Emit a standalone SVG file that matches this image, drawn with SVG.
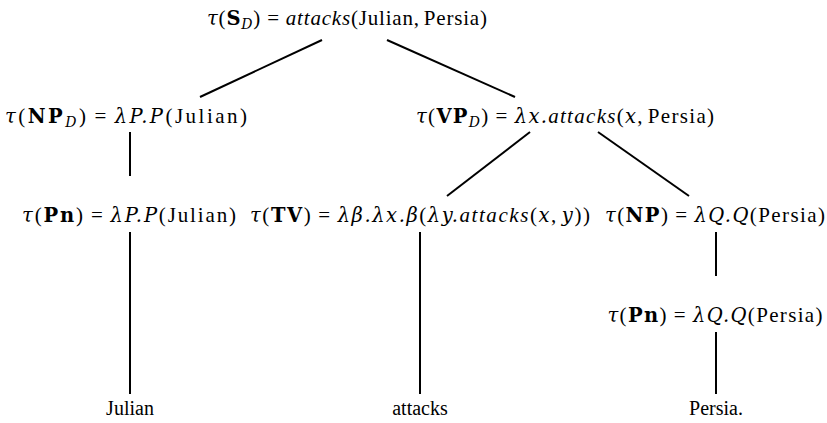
<svg xmlns="http://www.w3.org/2000/svg" width="827" height="423" viewBox="0 0 827 423">
<style>
text{font-family:"Liberation Serif","DejaVu Serif",serif;font-size:20px;fill:#000;text-anchor:middle}
.t{font-size:21px}
.i{font-style:italic}
.m{font-family:"DejaVu Serif",serif;font-style:italic;font-size:19.5px}
.b{font-family:"DejaVu Serif",serif;font-weight:bold;font-size:19.5px}
.s{font-family:"DejaVu Serif",serif;font-size:14px;font-style:italic}
line{stroke:#000;stroke-width:2}
</style>
<rect width="827" height="423" fill="#fff"/>
<g id="connectors">
<line x1="322" y1="40" x2="200" y2="97"/>
<line x1="387" y1="40" x2="515" y2="97"/>
<line x1="130" y1="132" x2="130" y2="176"/>
<line x1="530" y1="132" x2="447" y2="196"/>
<line x1="598" y1="132" x2="689" y2="196"/>
<line x1="130" y1="232" x2="130" y2="394"/>
<line x1="420" y1="232" x2="420" y2="394"/>
<line x1="716" y1="232" x2="716" y2="276"/>
<line x1="716" y1="332" x2="716" y2="394"/>
</g>
<g id="n_S"><text class="t" x="347" y="25" textLength="280" lengthAdjust="spacing"><tspan class="m">τ</tspan>(<tspan class="b">S</tspan><tspan class="s" dy="4">D</tspan><tspan dy="-4">)</tspan><tspan dx="6">=</tspan><tspan class="i" dx="6">attacks</tspan>(Julian,<tspan dx="4">Persia)</tspan></text></g>
<g id="n_NPD"><text class="t" x="126" y="123" textLength="242" lengthAdjust="spacing"><tspan class="m">τ</tspan>(<tspan class="b">NP</tspan><tspan class="s" dy="4">D</tspan><tspan dy="-4">)</tspan><tspan dx="6">=</tspan><tspan class="m" dx="6">λP.P</tspan>(Julian)</text></g>
<g id="n_VPD"><text class="t" x="565" y="123" textLength="298" lengthAdjust="spacing"><tspan class="m">τ</tspan>(<tspan class="b">VP</tspan><tspan class="s" dy="4">D</tspan><tspan dy="-4">)</tspan><tspan dx="6">=</tspan><tspan class="m" dx="6">λx.</tspan><tspan class="i">attacks</tspan>(<tspan class="m">x</tspan>,<tspan dx="4">Persia)</tspan></text></g>
<g id="n_Pn1"><text class="t" x="129" y="222" textLength="214" lengthAdjust="spacing"><tspan class="m">τ</tspan>(<tspan class="b">Pn</tspan>)<tspan dx="6">=</tspan><tspan class="m" dx="6">λP.P</tspan>(Julian)</text></g>
<g id="n_TV"><text class="t" x="420" y="222" textLength="340" lengthAdjust="spacing"><tspan class="m">τ</tspan>(<tspan class="b">TV</tspan>)<tspan dx="6">=</tspan><tspan class="m" dx="6">λβ.λx.β</tspan>(<tspan class="m">λy.</tspan><tspan class="i">attacks</tspan>(<tspan class="m">x</tspan>,<tspan class="m" dx="4">y</tspan>))</text></g>
<g id="n_NP"><text class="t" x="715" y="222" textLength="220" lengthAdjust="spacing"><tspan class="m">τ</tspan>(<tspan class="b">NP</tspan>)<tspan dx="6">=</tspan><tspan class="m" dx="6">λQ.Q</tspan>(Persia)</text></g>
<g id="n_Pn2"><text class="t" x="715" y="322" textLength="215" lengthAdjust="spacing"><tspan class="m">τ</tspan>(<tspan class="b">Pn</tspan>)<tspan dx="6">=</tspan><tspan class="m" dx="6">λQ.Q</tspan>(Persia)</text></g>
<g id="l_Julian"><text x="130" y="415">Julian</text></g>
<g id="l_attacks"><text x="420" y="415">attacks</text></g>
<g id="l_Persia"><text x="716" y="415">Persia.</text></g>
</svg>
